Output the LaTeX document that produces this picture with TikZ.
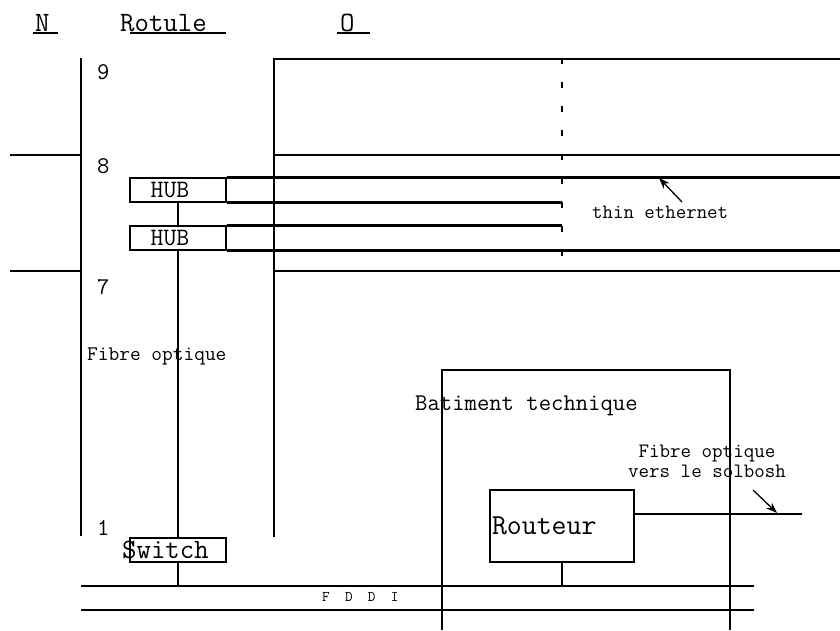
\documentclass[tikz,border=0pt]{standalone}
\usetikzlibrary{arrows.meta,positioning,calc}
\newcommand\ttsz[1]{\fontsize{#1}{#1}\selectfont\ttfamily}
\tikzset{
  wire/.style={line width=1.3pt, draw=black},
  coax/.style={line width=3pt, draw=black},
  box/.style={draw, line width=1.3pt, minimum width=96pt, minimum height=24pt, inner sep=0pt},
  lab/.style={inner sep=0pt, anchor=west, text=black},
  arr/.style={-{Stealth[length=11pt,width=8pt]}, line width=1.3pt},
}

\begin{document}
\begin{tikzpicture}[x=1pt, y=-1pt]
    \useasboundingbox (0,0) rectangle (840,630);
    % column titles
    \node[lab, font=\ttsz{28}] (tN) at (35,23) {N};
    \node[lab, font=\ttsz{28}] (tRot) at (120,23) {Rotule};
    \node[lab, font=\ttsz{28}] (tO) at (340,23) {O};
    \draw[wire] (33,33) -- (58,33);
    \draw[wire] (130,33) -- (226,33);
    \draw[wire] (337,33) -- (370,33);
    % floors
    \foreach \f/\y in {9/72,8/166,7/287,1/528}
      \node[lab, font=\ttsz{24}] (fl\f) at (97,\y) {\f};
    \coordinate (eR) at (840,0);
    \coordinate (dcol) at (562,0);
    % building N
    \draw[wire] (81,58) -- (81,536);
    \draw[wire] (10,155) -- (81,155);
    \draw[wire] (10,271) -- (81,271);
    % building O
    \draw[wire] (274,537) -- (274,59) -- (840,59);
    \draw[wire] (274,155) -- (840,155);
    \draw[wire] (274,271) -- (840,271);
    \draw[line width=2.5pt, dash pattern=on 6pt off 18pt] (562,58) -- (562,258);
    % hubs and switch
    \node[box, font=\ttsz{25}] (hub1) at (178,190) {\hspace*{-16pt}HUB};
    \node[box, font=\ttsz{25}] (hub2) at (178,238) {\hspace*{-16pt}HUB};
    \node[box] (switch) at (178,550) {};
    \node[lab, font=\ttsz{28}] (swlab) at (122,550) {Switch};
    \draw[wire] (hub1.south) -- (hub2.north);
    \draw[wire] (hub2.south) -- (switch.north);
    \draw[coax] (hub1.north east) -- (hub1.north east -| eR);
    \draw[coax] (hub1.south east) -- (hub1.south east -| dcol);
    \draw[coax] (hub2.north east) -- (hub2.north east -| dcol);
    \draw[coax] (hub2.south east) -- (hub2.south east -| eR);
    \node[lab, font=\ttsz{20.3}] (ethlab) at (592,212) {thin ethernet};
    \coordinate (ethtail) at (682,202);
    \coordinate (ethtip) at (659,178);
    \draw[arr] (ethtail) -- (ethtip);
    \node[lab, font=\ttsz{20.8}] (folab) at (87,356) {Fibre optique};
    % technical building
    \draw[wire] (442,630) -- (442,370) -- (730,370) -- (730,630);
    \node[lab, font=\ttsz{24}] (batlab) at (415,406) {Batiment technique};
    \node[draw, line width=1.3pt, minimum width=144pt, minimum height=72pt, inner sep=0pt,
      text width=140pt, align=left, font=\ttsz{29}] (routeur) at (562,526) {\raisebox{-4pt}{Routeur}};
    \coordinate (fibreEnd) at (802,514);
    \draw[wire] ([yshift=12pt]routeur.east) -- (fibreEnd);
    \node[font=\fontsize{20.4}{20}\selectfont\ttfamily, align=center, inner sep=0pt] (vers) at (707,461)
      {Fibre optique\\vers le solbosh};
    \coordinate (verstail) at (753,490);
    \coordinate (verstip) at (777,513);
    \draw[arr] (verstail) -- (verstip);
    % FDDI ring
    \coordinate (fddiL) at (81,586);
    \coordinate (fddiR) at (754,586);
    \draw[wire] (fddiL) -- (fddiR);
    \draw[wire] ($(fddiL)+(0,24)$) -- ($(fddiR)+(0,24)$);
    \node[lab, font=\ttsz{14.8}] (fddi) at (322,597) {F~~D~~D~~I};
    \draw[wire] (switch.south) -- (switch.south |- fddiL);
    \draw[wire] (routeur.south) -- (routeur.south |- fddiL);
  \end{tikzpicture}
\end{document}
